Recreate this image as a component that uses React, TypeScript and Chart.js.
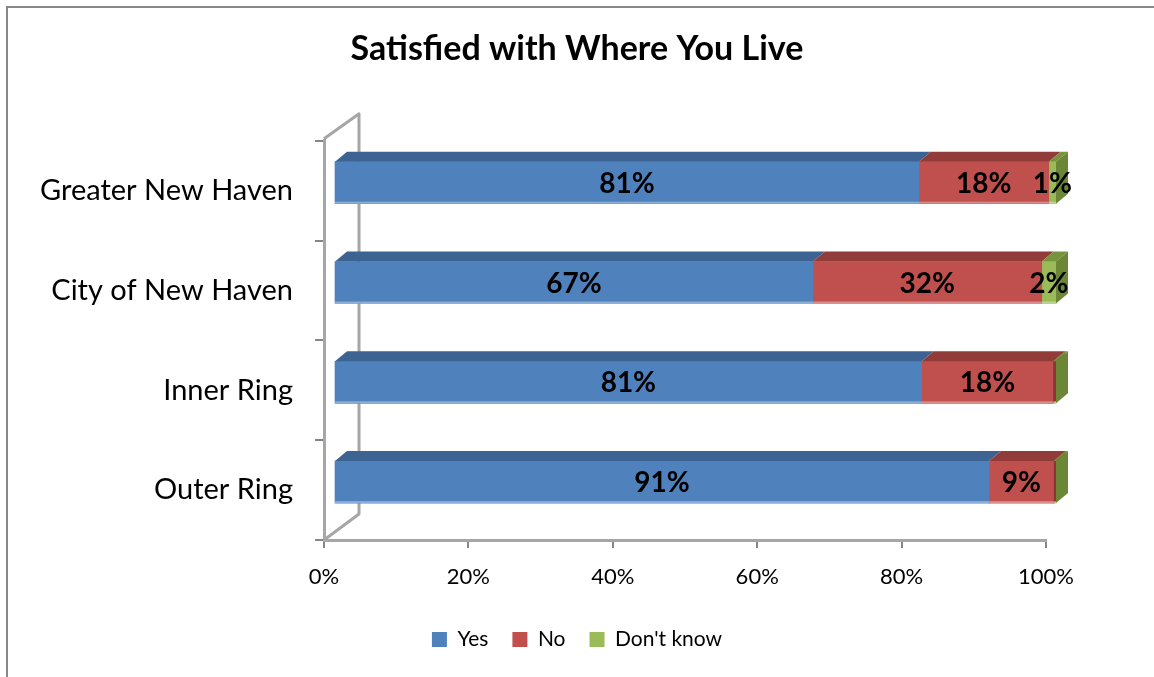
import React, { useEffect, useRef } from 'react';
import { Chart, registerables } from 'chart.js';

Chart.register(...registerables);

const categories = ['Greater New Haven', 'City of New Haven', 'Inner Ring', 'Outer Ring'];
const seriesNames = ['Yes', 'No', "Don't know"];
const yesValues = [81, 67, 81.4, 91];
const noValues = [18, 32, 18.2, 9];
const dontKnowValues = [1, 2, 0.4, 0.3];
const xTickLabels = ['0%', '20%', '40%', '60%', '80%', '100%'];

const FONT = 'Lato, "Open Sans", sans-serif';
const frontColors = ['#4F81BD', '#C0504D', '#9BBB59'];
const topColors = ['#3D6392', '#923C3A', '#77933C'];
const sideColors = ['#375A85', '#873634', '#6B8736'];

const DEPTH_X = 12;
const DEPTH_Y = -10;
const SHIFT_X = 10;
const SHIFT_Y = -8;

const threeDPlugin = {
  id: 'threeD',
  beforeDraw(chart: any) {
    const ctx = chart.ctx;
    ctx.save();
    ctx.strokeStyle = '#888888';
    ctx.lineWidth = 2;
    ctx.beginPath();
    ctx.moveTo(7, chart.height);
    ctx.lineTo(7, 7);
    ctx.lineTo(chart.width, 7);
    ctx.stroke();
    ctx.restore();
  },
  beforeDatasetsDraw(chart: any) {
    const ctx = chart.ctx;
    const ca = chart.chartArea;
    ctx.save();
    ctx.strokeStyle = '#A6A6A6';
    ctx.lineWidth = 3;
    ctx.lineJoin = 'round';
    ctx.beginPath();
    ctx.moveTo(ca.left, ca.top - 2);
    ctx.lineTo(ca.left + 35, ca.top - 27);
    ctx.lineTo(ca.left + 35, ca.bottom - 26);
    ctx.lineTo(ca.left, ca.bottom);
    ctx.stroke();
    ctx.restore();
    ctx.save();
    ctx.translate(SHIFT_X, SHIFT_Y);
  },
  afterDatasetsDraw(chart: any) {
    const ctx = chart.ctx;
    const n = chart.data.labels.length;
    for (let i = 0; i < n; i++) {
      let lastVisible = -1;
      chart.data.datasets.forEach((ds: any, d: number) => {
        if (ds.raw[i] >= 0.5) lastVisible = d;
      });
      chart.data.datasets.forEach((ds: any, d: number) => {
        const el = chart.getDatasetMeta(d).data[i];
        const { x, base, y, height } = el.getProps(['x', 'base', 'y', 'height'], true);
        const top = y - height / 2;
        const bottom = y + height / 2;
        ctx.fillStyle = topColors[d];
        ctx.beginPath();
        ctx.moveTo(base, top);
        ctx.lineTo(x, top);
        ctx.lineTo(x + DEPTH_X, top + DEPTH_Y);
        ctx.lineTo(base + DEPTH_X, top + DEPTH_Y);
        ctx.closePath();
        ctx.fill();
        if (d === lastVisible || (d > lastVisible && ds.raw[i] > 0)) {
          ctx.fillStyle = sideColors[d];
          ctx.beginPath();
          ctx.moveTo(x, top);
          ctx.lineTo(x + DEPTH_X, top + DEPTH_Y);
          ctx.lineTo(x + DEPTH_X, bottom + DEPTH_Y);
          ctx.lineTo(x, bottom);
          ctx.closePath();
          ctx.fill();
        }
        ctx.fillStyle = 'rgba(255,255,255,0.35)';
        ctx.fillRect(base, bottom - 2, x - base, 2);
      });
    }
    ctx.fillStyle = '#000';
    ctx.font = `bold 28px ${FONT}`;
    ctx.textAlign = 'center';
    ctx.textBaseline = 'middle';
    for (let i = 0; i < n; i++) {
      chart.data.datasets.forEach((ds: any, d: number) => {
        const v = ds.raw[i];
        if (v < 0.5) return;
        const el = chart.getDatasetMeta(d).data[i];
        const { x, base, y } = el.getProps(['x', 'base', 'y'], true);
        ctx.fillText(`${Math.round(v)}%`, (x + base) / 2, y + 1);
      });
    }
    ctx.restore();
  },
};

export default function App() {
  const ref = useRef<HTMLCanvasElement | null>(null);
  useEffect(() => {
    document.body.style.margin = '0';
    const raws = [yesValues, noValues, dontKnowValues];
    const totals = categories.map((_, i) => raws.reduce((s, r) => s + r[i], 0));
    const chart = new Chart(ref.current as HTMLCanvasElement, {
      type: 'bar',
      data: {
        labels: categories,
        datasets: raws.map((r, d) => ({
          label: seriesNames[d],
          raw: r,
          data: r.map((v, i) => (v / totals[i]) * 100),
          backgroundColor: frontColors[d],
          borderWidth: 0,
          barThickness: 42,
          clip: false,
        })) as any,
      },
      options: {
        indexAxis: 'y',
        animation: false,
        responsive: false,
        layout: { padding: { left: 0, right: 0, top: 0, bottom: 17 } },
        plugins: {
          title: {
            display: true,
            text: 'Satisfied with Where You Live',
            color: '#000',
            font: { family: FONT, size: 34, weight: 'bold' },
            padding: { top: 29, bottom: 71 },
          },
          legend: {
            position: 'bottom',
            labels: {
              color: '#000',
              font: { family: FONT, size: 21 },
              boxWidth: 15,
              boxHeight: 15,
              padding: 24,
            },
          },
          tooltip: { enabled: false },
        },
        scales: {
          x: {
            stacked: true,
            min: 0,
            max: 100,
            ticks: {
              stepSize: 20,
              color: '#000',
              font: { family: FONT, size: 22 },
              padding: 16,
              callback: (_v: any, i: number) => xTickLabels[i],
            },
            grid: { drawOnChartArea: false, tickLength: 8, color: '#868686', lineWidth: 2 },
            border: { color: '#A6A6A6', width: 3 },
            afterFit: (s: any) => { s.height = 65; },
          },
          y: {
            stacked: true,
            ticks: { color: '#000', font: { family: FONT, size: 29 }, padding: 22 },
            grid: { offset: true, drawOnChartArea: false, tickLength: 9, color: '#868686', lineWidth: 2 },
            border: { color: '#A6A6A6', width: 3 },
            afterFit: (s: any) => { s.width = 324; },
          },
          yRight: {
            type: 'linear',
            position: 'right',
            display: true,
            ticks: { display: false },
            grid: { display: false },
            border: { display: false },
            afterFit: (s: any) => { s.width = 108; },
          },
        },
      } as any,
      plugins: [threeDPlugin],
    });
    return () => chart.destroy();
  }, []);
  return <canvas ref={ref} width={1154} height={677} style={{ display: 'block' }} />;
}
